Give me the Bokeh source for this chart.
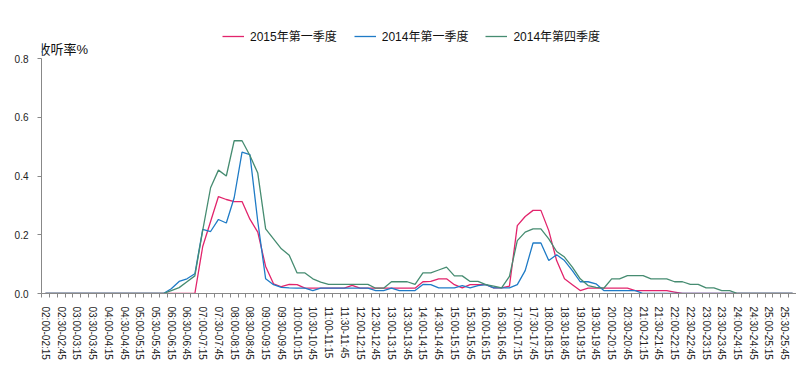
from bokeh.plotting import figure
from bokeh.models import FixedTicker, Legend, LegendItem, Label, Range1d, PrintfTickFormatter
from bokeh.embed import file_html
from bokeh.resources import INLINE

# 15-minute slots from 02:00 to 25:45
slot_labels = []
for k in range(96):
    s = 120 + 15 * k
    e = s + 15
    slot_labels.append(f"{s // 60:02d}:{s % 60:02d}-{e // 60:02d}:{e % 60:02d}")

series_names = ["2015年第一季度", "2014年第一季度", "2014年第四季度"]

q1_2015 = [0, 0, 0, 0, 0, 0, 0, 0, 0, 0, 0, 0, 0, 0, 0, 0,
           0, 0, 0, 0, 0.16, 0.245, 0.33, 0.32, 0.313, 0.313, 0.253, 0.209, 0.092, 0.033, 0.023, 0.031,
           0.03, 0.018, 0.018, 0.018, 0.018, 0.018, 0.018, 0.028, 0.018, 0.018, 0.018, 0.018, 0.018, 0.018, 0.018, 0.018,
           0.04, 0.041, 0.05, 0.05, 0.03, 0.019, 0.03, 0.03, 0.03, 0.019, 0.019, 0.025, 0.231, 0.262, 0.283, 0.283,
           0.214, 0.112, 0.05, 0.03, 0.01, 0.018, 0.018, 0.018, 0.018, 0.018, 0.018, 0.01, 0.01, 0.01, 0.01, 0.01,
           0.005, 0, 0, 0, 0, 0, 0, 0, 0, 0, 0, 0, 0, 0, 0, 0]

q1_2014 = [0, 0, 0, 0, 0, 0, 0, 0, 0, 0, 0, 0, 0, 0, 0, 0,
           0.016, 0.041, 0.05, 0.067, 0.218, 0.211, 0.252, 0.24, 0.326, 0.481, 0.473, 0.245, 0.05, 0.03, 0.021, 0.019,
           0.018, 0.018, 0.01, 0.018, 0.018, 0.018, 0.018, 0.018, 0.018, 0.018, 0.01, 0.01, 0.018, 0.01, 0.01, 0.01,
           0.031, 0.03, 0.019, 0.019, 0.019, 0.027, 0.019, 0.027, 0.03, 0.019, 0.019, 0.019, 0.03, 0.078, 0.172, 0.172,
           0.112, 0.132, 0.112, 0.078, 0.04, 0.04, 0.033, 0.01, 0.01, 0.01, 0.01, 0.01, 0, 0, 0, 0,
           0, 0, 0, 0, 0, 0, 0, 0, 0, 0, 0, 0, 0, 0, 0, 0]

q4_2014 = [0, 0, 0, 0, 0, 0, 0, 0, 0, 0, 0, 0, 0, 0, 0, 0,
           0.01, 0.02, 0.04, 0.06, 0.215, 0.36, 0.42, 0.40, 0.52, 0.52, 0.47, 0.41, 0.22, 0.186, 0.152, 0.13,
           0.07, 0.07, 0.05, 0.039, 0.031, 0.031, 0.031, 0.031, 0.031, 0.031, 0.018, 0.018, 0.04, 0.04, 0.04, 0.031,
           0.07, 0.07, 0.08, 0.09, 0.06, 0.06, 0.041, 0.041, 0.03, 0.025, 0.019, 0.058, 0.18, 0.209, 0.22, 0.22,
           0.186, 0.143, 0.124, 0.09, 0.05, 0.027, 0.021, 0.018, 0.05, 0.05, 0.061, 0.061, 0.061, 0.05, 0.05, 0.05,
           0.04, 0.04, 0.031, 0.031, 0.019, 0.019, 0.01, 0.01, 0, 0, 0, 0, 0, 0, 0, 0]

y_ticks = [0.0, 0.2, 0.4, 0.6, 0.8]
colors = ["#E2246C", "#1F7BC6", "#468C71"]

FONT = "Liberation Sans, Noto Sans CJK SC"

xs = [k + 0.5 for k in range(len(slot_labels))]

# frame: bottom (0.0) at y=293, 0.8 at y=58 -> 293.75 px per unit; frame top at y=10
y_top = 283 / 293.75

p = figure(width=796, height=373, output_backend="svg", toolbar_location=None, title=None,
           x_range=Range1d(0, len(slot_labels)), y_range=Range1d(0, y_top),
           min_border_left=41, min_border_right=0, min_border_top=10, min_border_bottom=80)
p.outline_line_color = None
p.xgrid.visible = False
p.ygrid.visible = False
p.background_fill_color = "white"
p.border_fill_color = "white"

renderers = []
for vals, c in zip([q1_2015, q1_2014, q4_2014], colors):
    r = p.line(xs, vals, line_color=c, line_width=1.3)
    renderers.append(r)

# x axis: tick marks on slot boundaries, labels every other slot
xax = p.xaxis[0]
major = [k + 0.5 for k in range(0, len(slot_labels), 2)]
xax.ticker = FixedTicker(ticks=major, minor_ticks=list(range(len(slot_labels) + 1)))
xax.major_label_overrides = {k + 0.5: slot_labels[k] for k in range(0, len(slot_labels), 2)}
xax.major_label_orientation = "vertical"
xax.major_tick_out = 0
xax.major_tick_in = 0
xax.minor_tick_out = 4
xax.minor_tick_in = 0
xax.minor_tick_line_color = "#888888"
xax.axis_line_color = "#888888"
xax.major_label_text_font_size = "10px"
xax.major_label_text_font = FONT
xax.major_label_text_color = "#222222"
xax.major_label_standoff = 9

yax = p.yaxis[0]
yax.bounds = (0, 0.8)
yax.ticker = FixedTicker(ticks=y_ticks, minor_ticks=[])
yax.formatter = PrintfTickFormatter(format="%.1f")
yax.major_tick_out = 4
yax.major_tick_in = 0
yax.major_tick_line_color = "#888888"
yax.axis_line_color = "#888888"
yax.major_label_text_font_size = "10px"
yax.major_label_text_font = FONT
yax.major_label_text_color = "#222222"
yax.major_label_standoff = 9

p.add_layout(Label(x=-4, y=244, x_units="screen", y_units="screen", text="收听率%",
                   text_font_size="13px", text_font=FONT, text_baseline="middle",
                   text_align="left", text_color="#111111"))

legend = Legend(items=[LegendItem(label=n, renderers=[r]) for n, r in zip(series_names, renderers)],
                orientation="horizontal", location=(181, 249),
                glyph_width=22, glyph_height=14, label_height=14, label_standoff=6,
                spacing=17, padding=0, margin=0,
                border_line_color=None, background_fill_alpha=0,
                label_text_font_size="12px", label_text_font=FONT, label_text_color="#111111")
p.add_layout(legend)

open("out.html", "w").write(file_html(p, INLINE))
